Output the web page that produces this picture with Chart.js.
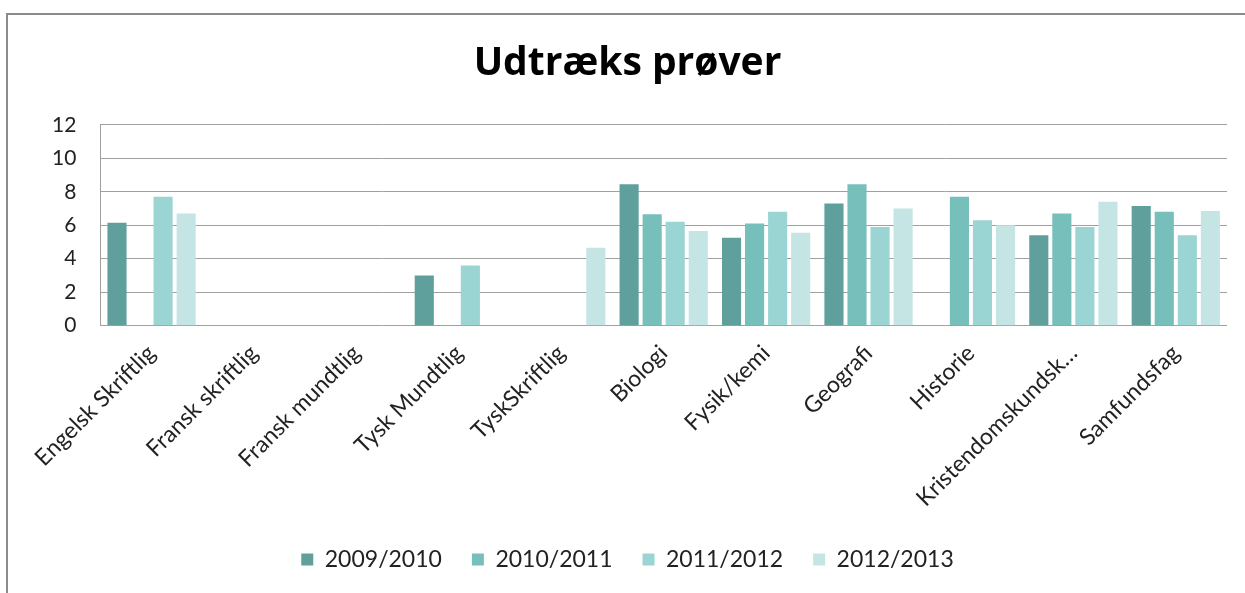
<!DOCTYPE html>
<html>
<head>
<meta charset="utf-8">
<script src="https://cdn.jsdelivr.net/npm/chart.js@4"></script>
<style>
  body { margin: 0; background: #fff; }
  #wrap { position: relative; width: 1245px; height: 593px; overflow: hidden; }
  #frame {
    position: absolute; left: 6px; top: 13px; right: -10px; bottom: -10px;
    border-top: 2px solid #8c8c8c; border-left: 2px solid #8c8c8c;
    pointer-events: none;
  }
  canvas { position: absolute; left: 0; top: 0; }
</style>
</head>
<body>
<div id="wrap">
  <canvas id="chart" width="1245" height="593"></canvas>
  <div id="frame"></div>
</div>
<script>
const categories = [
  "Engelsk Skriftlig", "Fransk skriftlig", "Fransk mundtlig", "Tysk Mundtlig",
  "TyskSkriftlig", "Biologi", "Fysik/kemi", "Geografi", "Historie",
  "Kristendomskundsk…", "Samfundsfag"
];
const seriesNames = ["2009/2010", "2010/2011", "2011/2012", "2012/2013"];
const v2009 = [6.15, null, null, 3.0, null, 8.45, 5.25, 7.3, null, 5.4, 7.15];
const v2010 = [null, null, null, null, null, 6.65, 6.1, 8.45, 7.7, 6.7, 6.8];
const v2011 = [7.7, null, null, 3.6, null, 6.2, 6.8, 5.9, 6.3, 5.9, 5.4];
const v2012 = [6.7, null, null, null, 4.65, 5.65, 5.55, 7.0, 6.0, 7.4, 6.85];
const yTicks = [0, 2, 4, 6, 8, 10, 12];

const colors = ["#5fa09c", "#76bfbb", "#9bd5d3", "#c4e5e4"];
const values = [v2009, v2010, v2011, v2012];
const fontFamily = "Lato, 'Open Sans', sans-serif";

new Chart(document.getElementById("chart").getContext("2d"), {
  type: "bar",
  data: {
    labels: categories,
    datasets: seriesNames.map((name, i) => ({
      label: name,
      data: values[i],
      backgroundColor: colors[i],
      borderWidth: 0,
      categoryPercentage: 0.9,
      barPercentage: 0.83
    }))
  },
  options: {
    responsive: false,
    animation: false,
    layout: { padding: { left: 28, right: 18, top: 0, bottom: 12 } },
    plugins: {
      title: {
        display: true,
        text: "Udtræks prøver",
        color: "#000",
        font: { family: "'Open Sans', sans-serif", size: 39, weight: "bold" },
        padding: { top: 40, bottom: 38 }
      },
      legend: {
        position: "bottom",
        labels: {
          color: "#222",
          font: { family: fontFamily, size: 23 },
          boxWidth: 12,
          boxHeight: 12,
          padding: 30
        }
      },
      tooltip: { enabled: false }
    },
    scales: {
      x: {
        grid: { display: false },
        border: { display: false },
        ticks: {
          color: "#222",
          font: { family: fontFamily, size: 23 },
          minRotation: 45,
          maxRotation: 45,
          autoSkip: false,
          padding: 6
        }
      },
      y: {
        min: 0,
        max: 12,
        afterBuildTicks: axis => { axis.ticks = yTicks.map(v => ({ value: v })); },
        grid: { color: "#a0a0a0", lineWidth: 1, drawTicks: false },
        border: { display: true, color: "#a0a0a0", width: 1 },
        ticks: {
          color: "#222",
          font: { family: fontFamily, size: 21 },
          padding: 24
        }
      }
    }
  }
});
</script>
</body>
</html>
